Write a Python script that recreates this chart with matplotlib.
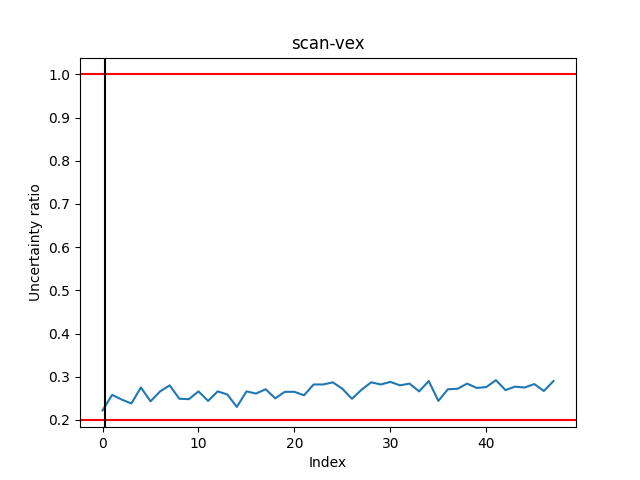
import matplotlib
matplotlib.use("Agg")
import matplotlib.pyplot as plt

ratios = [0.222, 0.258, 0.247, 0.238, 0.275, 0.243, 0.266, 0.280, 0.249, 0.248,
          0.266, 0.244, 0.266, 0.259, 0.230, 0.266, 0.261, 0.271, 0.250, 0.265,
          0.265, 0.257, 0.282, 0.282, 0.287, 0.272, 0.249, 0.270, 0.287, 0.282,
          0.288, 0.280, 0.284, 0.266, 0.290, 0.244, 0.271, 0.272, 0.284, 0.274,
          0.276, 0.292, 0.269, 0.277, 0.275, 0.283, 0.267, 0.290]
marker_x = 0.3
upper = 1.0
lower = 0.2

fig, ax = plt.subplots(figsize=(6.4, 4.8), dpi=100)
ax.plot(range(len(ratios)), ratios)
ax.axhline(upper, color="red")
ax.axhline(lower, color="red")
ax.axvline(marker_x, color="black")
ax.set_title("scan-vex")
ax.set_xlabel("Index")
ax.set_ylabel("Uncertainty ratio")
fig.savefig("out.png")
